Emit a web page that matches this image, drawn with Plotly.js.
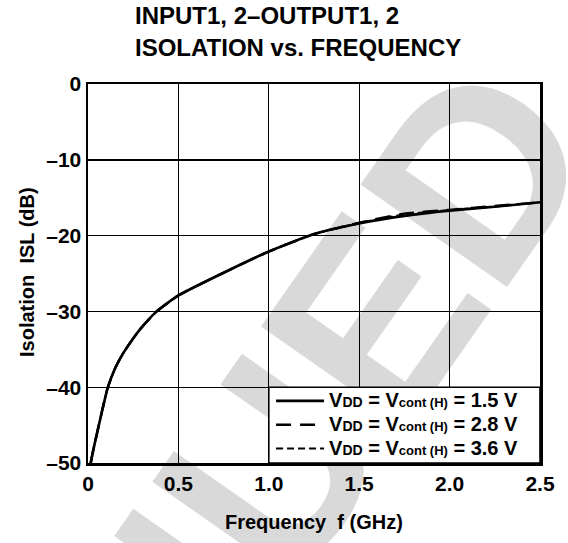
<!DOCTYPE html>
<html>
<head>
<meta charset="utf-8">
<script src="https://cdn.plot.ly/plotly-3.0.1.min.js"></script>
<style>
html,body{margin:0;padding:0;background:#fff;}
#chart{width:568px;height:543px;}
</style>
</head>
<body>
<div id="chart"></div>
<script>
// Frequency (GHz) and isolation (dB)
const freq15 = [0.015, 0.03, 0.06, 0.085, 0.11, 0.15, 0.19, 0.24, 0.29, 0.38, 0.5, 0.75, 1.0, 1.25, 1.5, 1.75, 2.0, 2.25, 2.5];
const isl15  = [-50, -48.2, -45.0, -42.4, -40, -37.5, -35.7, -33.9, -32.3, -30, -27.9, -24.9, -22.1, -19.8, -18.4, -17.4, -16.7, -16.2, -15.6];
const freq28 = [0.015, 0.03, 0.06, 0.085, 0.11, 0.15, 0.19, 0.24, 0.29, 0.38, 0.5, 0.75, 1.0, 1.25, 1.5, 1.75, 2.0, 2.25, 2.5];
const isl28  = [-50, -48.2, -45.0, -42.4, -40, -37.5, -35.7, -33.9, -32.3, -30, -27.9, -24.9, -22.1, -19.8, -18.3, -17.1, -16.6, -16.1, -15.6];
const freq36 = [0.015, 0.03, 0.06, 0.085, 0.11, 0.15, 0.19, 0.24, 0.29, 0.38, 0.5, 0.75, 1.0, 1.25, 1.5, 1.75, 2.0, 2.25, 2.5];
const isl36  = [-50, -48.2, -45.0, -42.4, -40, -37.5, -35.7, -33.9, -32.3, -30, -27.9, -24.9, -22.1, -19.8, -18.35, -17.2, -16.65, -16.15, -15.6];

const voltages = ['1.5', '2.8', '3.6'];
const seriesNames = voltages.map(v =>
  '<span style="font-size:20px">V</span><span style="font-size:14px">DD</span>' +
  '<span style="font-size:20px"> = V</span><span style="font-size:13px">cont (H)</span>' +
  '<span style="font-size:20px"> = ' + v + ' V</span>');
const xTickVals = [0, 0.5, 1.0, 1.5, 2.0, 2.5];
const xTickText = ['0', '0.5', '1.0', '1.5', '2.0', '2.5'];
const yTickVals = [0, -10, -20, -30, -40, -50];
const yTickText = ['0', '–10', '–20', '–30', '–40', '–50'];
const titleText = 'INPUT1, 2–OUTPUT1, 2<br>ISOLATION vs. FREQUENCY';
const xTitle = 'Frequency  f (GHz)';
const yTitle = 'Isolation  ISL (dB)';
const watermark = 'DISCONTINUED';

const FONT = 'Liberation Sans, Arial, Helvetica, sans-serif';

const traces = [
  {x: freq15, y: isl15, name: seriesNames[0], mode: 'lines',
   line: {color: '#000', width: 2.6, dash: 'solid', shape: 'spline', smoothing: 0.5}},
  {x: freq28, y: isl28, name: seriesNames[1], mode: 'lines',
   line: {color: '#000', width: 2.4, dash: '15px,9px', shape: 'spline', smoothing: 0.5}},
  {x: freq36, y: isl36, name: seriesNames[2], mode: 'lines',
   line: {color: '#000', width: 2.2, dash: '7px,4px', shape: 'spline', smoothing: 0.5}}
];

const layout = {
  width: 568, height: 543,
  margin: {l: 88, r: 28, t: 84, b: 80},
  paper_bgcolor: '#fff',
  plot_bgcolor: 'rgba(0,0,0,0)',
  font: {family: FONT, color: '#000', size: 20, weight: 'bold'},
  showlegend: true,
  title: {
    text: titleText,
    font: {family: FONT, size: 24, color: '#000', weight: 'bold'},
    x: 0.104, xref: 'paper', xanchor: 'left',
    y: 0.955, yref: 'container', yanchor: 'top'
  },
  xaxis: {
    range: [0, 2.5], tickvals: xTickVals, ticktext: xTickText,
    showgrid: true, gridcolor: '#000', gridwidth: 1.4,
    showline: true, linecolor: '#000', linewidth: 2.5, mirror: true,
    ticks: '', zeroline: false, fixedrange: true,
    tickfont: {family: FONT, size: 21, color: '#000', weight: 'bold'}
  },
  yaxis: {
    range: [-50, 0], tickvals: yTickVals, ticktext: yTickText,
    showgrid: true, gridcolor: '#000', gridwidth: 1.4,
    showline: true, linecolor: '#000', linewidth: 2.5, mirror: true,
    ticks: '', zeroline: false, fixedrange: true,
    tickfont: {family: FONT, size: 21, color: '#000', weight: 'bold'}
  },
  legend: {
    x: 0.405, xanchor: 'left', y: 0.2084, yanchor: 'top',
    bgcolor: 'rgba(0,0,0,0)', borderwidth: 0,
    font: {family: FONT, size: 16, color: '#000', weight: 'bold'},
    tracegroupgap: 0, itemwidth: 48
  },
  annotations: [
    {text: xTitle, xref: 'paper', yref: 'paper', x: 0.5, y: -0.1557, xanchor: 'center', yanchor: 'middle',
     showarrow: false, font: {family: FONT, size: 20, color: '#000', weight: 'bold'}},
    {text: yTitle, xref: 'paper', yref: 'paper', x: -0.135, y: 0.504, xanchor: 'center', yanchor: 'middle',
     textangle: -90, showarrow: false, font: {family: FONT, size: 20, color: '#000', weight: 'bold'}}
  ],
  shapes: [
    {type: 'line', xref: 'paper', yref: 'paper', x0: -0.4491, y0: -1.3483, x1: -0.1925, y1: -0.9156,
     layer: 'below', line: {color: 'rgba(0,0,0,0)', width: 0},
     label: {text: watermark, textangle: -55, textposition: 'middle', yanchor: 'middle', xanchor: 'center',
             font: {family: FONT, size: 260, color: '#d9d9d9', weight: 'bold'}}},
    {type: 'rect', xref: 'x', yref: 'y', x0: 1.0, x1: 2.5, y0: -50, y1: -40,
     layer: 'above', fillcolor: '#fff', line: {color: '#000', width: 1.6}}
  ]
};

Plotly.newPlot('chart', traces, layout, {displayModeBar: false, staticPlot: true});
</script>
</body>
</html>
